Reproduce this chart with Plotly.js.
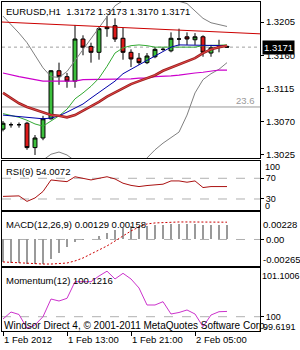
<!DOCTYPE html>
<html><head><meta charset="utf-8">
<script src="https://cdn.plot.ly/plotly-3.0.1.min.js"></script>
<style>html,body{margin:0;padding:0;background:#fff}#chart{width:300px;height:350px}</style>
</head><body><div id="chart"></div><script>
const times = ['2012-02-01 05:00','2012-02-01 06:00','2012-02-01 07:00','2012-02-01 08:00','2012-02-01 09:00','2012-02-01 10:00','2012-02-01 11:00','2012-02-01 12:00','2012-02-01 13:00','2012-02-01 14:00','2012-02-01 15:00','2012-02-01 16:00','2012-02-01 17:00','2012-02-01 18:00','2012-02-01 19:00','2012-02-01 20:00','2012-02-01 21:00','2012-02-01 22:00','2012-02-01 23:00','2012-02-02 00:00','2012-02-02 01:00','2012-02-02 02:00','2012-02-02 03:00','2012-02-02 04:00','2012-02-02 05:00','2012-02-02 06:00','2012-02-02 07:00','2012-02-02 08:00','2012-02-02 09:00'];
const open  = [1.3060,1.3066,1.3066,1.3068,1.3035,1.3048,1.3074,1.3139,1.3131,1.3125,1.3182,1.3172,1.3164,1.3196,1.3200,1.3183,1.3164,1.3156,1.3150,1.3158,1.3168,1.3166,1.3182,1.3185,1.3181,1.3185,1.3163,1.3171,1.3172];
const high  = [1.3071,1.3069,1.3069,1.3070,1.3052,1.3078,1.3140,1.3150,1.3136,1.3201,1.3187,1.3177,1.3199,1.3213,1.3210,1.3197,1.3168,1.3163,1.3163,1.3171,1.3171,1.3191,1.3196,1.3191,1.3190,1.3187,1.3174,1.3181,1.3173];
const low   = [1.3057,1.3062,1.3062,1.3032,1.3025,1.3045,1.3073,1.3120,1.3116,1.3116,1.3160,1.3150,1.3154,1.3185,1.3178,1.3154,1.3144,1.3147,1.3148,1.3156,1.3166,1.3164,1.3173,1.3174,1.3174,1.3158,1.3158,1.3164,1.3170];
const close = [1.3068,1.3066,1.3066,1.3035,1.3048,1.3074,1.3139,1.3131,1.3125,1.3182,1.3171,1.3164,1.3196,1.3198,1.3182,1.3164,1.3155,1.3150,1.3159,1.3168,1.3168,1.3183,1.3182,1.3182,1.3185,1.3164,1.3170,1.3171,1.3171];
const maRed     = [1.3109,1.3102,1.3095,1.3090,1.3086,1.3082,1.3079,1.3078,1.3076,1.3079,1.3085,1.3090,1.3097,1.3104,1.3110,1.3116,1.3121,1.3125,1.3129,1.3133,1.3139,1.3143,1.3147,1.3151,1.3156,1.3163,1.3168,1.3171,1.3173];
const maBlue    = [1.3079,1.3078,1.3076,1.3075,1.3074,1.3074,1.3075,1.3078,1.3083,1.3089,1.3094,1.3102,1.3110,1.3118,1.3125,1.3135,1.3141,1.3148,1.3154,1.3160,1.3166,1.3171,1.3174,1.3174,1.3174,1.3174,1.3173,1.3173,1.3173];
const maGreen   = [1.3081,1.3079,1.3076,1.3072,1.3067,1.3064,1.3071,1.3078,1.3087,1.3101,1.3109,1.3118,1.3129,1.3145,1.3163,1.3170,1.3173,1.3174,1.3173,1.3171,1.3171,1.3171,1.3171,1.3171,1.3171,1.3173,1.3173,1.3174,1.3174];
const maMagenta = [1.3136,1.3133,1.3131,1.3129,1.3127,1.3125,1.3125,1.3125,1.3125,1.3125,1.3127,1.3127,1.3127,1.3127,1.3127,1.3127,1.3128,1.3129,1.3129,1.3131,1.3131,1.3132,1.3133,1.3135,1.3136,1.3137,1.3139,1.3140,1.3140];
const bandUpper = [1.3213,1.3202,1.3190,1.3177,1.3160,1.3143,1.3131,1.3130,1.3138,1.3153,1.3168,1.3182,1.3197,1.3212,1.3227,1.3234,1.3239,1.3242,1.3243,1.3242,1.3239,1.3236,1.3233,1.3230,1.3220,1.3210,1.3204,1.3202,1.3199];
const bandLower = [1.2990,1.2995,1.3000,1.3005,1.3010,1.3018,1.3026,1.3029,1.3025,1.3017,1.3005,1.2995,1.2988,1.2985,1.2985,1.2990,1.2998,1.3008,1.3021,1.3032,1.3041,1.3049,1.3056,1.3079,1.3109,1.3127,1.3135,1.3141,1.3150];
const trendRed = [1.3205, 1.3189];
const fibLevel = 1.3090;
const fibLabel = '23.6';
const rsi = [35,35,36,25.4,32,44.5,66.8,65,63.5,73,70,66.8,70,73,68.7,60.5,56.3,54,56,57.2,58.6,64.9,64.9,62.4,64.9,52.1,54,54,54.0072];
const rsiLevels = [70, 30];
const macdMain = [-0.00205,-0.00215,-0.00215,-0.00224,-0.00228,-0.00224,-0.00178,-0.00123,-0.00068,-0.00023,-0.00005,0.00005,0.00032,0.00059,0.00087,0.00105,0.00119,0.00123,0.00123,0.00128,0.00132,0.00137,0.00142,0.00142,0.00142,0.00132,0.00128,0.00128,0.00129];
const macdSignal = [-0.00205,-0.0021,-0.00215,-0.00219,-0.00224,-0.00224,-0.00224,-0.00219,-0.00215,-0.00196,-0.00169,-0.00132,-0.00096,-0.00059,-0.00014,0.00032,0.00078,0.00114,0.00142,0.00151,0.00155,0.0016,0.0016,0.0016,0.0016,0.0016,0.0016,0.00159,0.00158];
const momentum = [99.947,100.108,100.051,99.732,99.809,100.0,100.408,100.362,100.424,100.807,100.807,100.807,100.939,101.05,100.870,101.001,100.870,100.662,100.270,100.270,100.346,100.062,100.097,100.155,100.062,99.769,100.039,100.115,100.1216];
const priceTicks = [1.3025,1.3070,1.3115,1.3160,1.3205];
const timeTicks = ['2012-02-01 05:00','2012-02-01 13:00','2012-02-01 21:00','2012-02-02 05:00'];
const timeTickText = ['1 Feb 2012','1 Feb 13:00','1 Feb 21:00','2 Feb 05:00'];
const headerText = 'EURUSD,H1\u00a0\u00a01.3172 1.3173 1.3170 1.3171';
const rsiTitle = 'RSI(9) 54.0072';
const macdTitle = 'MACD(12,26,9) 0.00129 0.00158';
const momTitle = 'Momentum(12) 100.1216';
const rsiEdge = ['100','0'];
const macdEdge = ['0.00228','-0.00265'];
const momEdge = ['101.1006','99.6191'];
const watermark = 'Windsor Direct 4, \u00a9 2001-2011 MetaQuotes Software Corp.';

const FONT = 'Liberation Sans, Arial, sans-serif';
const xRange = ['2012-02-01 04:52:30','2012-02-02 13:07:30'];
const last = close[close.length-1];

const traces = [
  {type:'candlestick', x:times, open:open, high:high, low:low, close:close, xaxis:'x', yaxis:'y',
   increasing:{line:{color:'#000',width:1}, fillcolor:'#3cbf3c'},
   decreasing:{line:{color:'#000',width:1}, fillcolor:'#dd1a1a'}, hoverinfo:'skip'},
  {type:'scatter', mode:'lines', x:times, y:bandUpper, line:{color:'#808080',width:1}, xaxis:'x', yaxis:'y'},
  {type:'scatter', mode:'lines', x:times, y:bandLower, line:{color:'#808080',width:1}, xaxis:'x', yaxis:'y'},
  {type:'scatter', mode:'lines', x:times, y:maMagenta, line:{color:'#cc00cc',width:1.2}, xaxis:'x', yaxis:'y'},
  {type:'scatter', mode:'lines', x:times, y:maGreen, line:{color:'#33aa33',width:1}, xaxis:'x', yaxis:'y'},
  {type:'scatter', mode:'lines', x:times, y:maBlue, line:{color:'#0000aa',width:1}, xaxis:'x', yaxis:'y'},
  {type:'scatter', mode:'lines', x:times, y:maRed, line:{color:'#9a2020',width:2.6}, xaxis:'x', yaxis:'y'},
  {type:'scatter', mode:'lines', x:times, y:maRed, line:{color:'#e84848',width:0.9}, xaxis:'x', yaxis:'y'},
  {type:'scatter', mode:'lines', x:times, y:rsi, line:{color:'#aa1111',width:1}, xaxis:'x2', yaxis:'y2'},
  {type:'bar', x:times, y:macdMain, width:500000, marker:{color:'#9a9a9a', line:{width:0}}, xaxis:'x3', yaxis:'y3'},
  {type:'scatter', mode:'lines', x:times, y:macdSignal, line:{color:'#cc0000',width:1,dash:'2px,2px'}, xaxis:'x3', yaxis:'y3'},
  {type:'scatter', mode:'lines', x:times, y:momentum, line:{color:'#cc33cc',width:1}, xaxis:'x4', yaxis:'y4'}
];

const xBase = {type:'date', range:xRange, showline:true, mirror:true, linecolor:'#000', linewidth:1,
  showgrid:false, zeroline:false, showticklabels:false, ticks:'', fixedrange:true};
const yBase = {side:'right', showline:true, mirror:true, linecolor:'#000', linewidth:1, showgrid:false,
  zeroline:false, ticks:'outside', ticklen:3, tickcolor:'#000', tickfont:{size:9.5,color:'#000'}, fixedrange:true};

const hline = (yref, y, color, dash) => ({type:'line', xref:'paper', x0:0, x1:1, yref:yref, y0:y, y1:y,
  line:{color:color, width:1, dash:dash}, layer:'below'});

const shapes = [
  hline('y', fibLevel, '#9a9a9a', 'solid'),
  hline('y', last, '#a0a0a0', 'dot'),
  {type:'line', xref:'paper', x0:0, x1:1, yref:'y', y0:trendRed[0], y1:trendRed[1], line:{color:'#cc0000',width:1}},
  hline('y2', rsiLevels[0], '#b0b0b0', 'dash'),
  hline('y2', rsiLevels[1], '#b0b0b0', 'dash'),
  hline('y3', 0, '#b0b0b0', 'dash'),
  hline('y4', 100, '#b0b0b0', 'dash')
];

const ann = (text, x, y, extra) => Object.assign({text:text, showarrow:false, xref:'paper', yref:'paper',
  x:x, y:y, xanchor:'left', yanchor:'middle', font:{family:FONT, size:9.5, color:'#000'}, borderpad:0}, extra||{});

const annotations = [
  ann(headerText, 0.012, 0.9726),
  ann(rsiTitle, 0.012, 0.4863),
  ann(macdTitle, 0.012, 0.3252),
  ann(momTitle, 0.012, 0.155),
  ann(watermark, 0.004, 0.018, {font:{family:FONT, size:10, color:'#000'}}),
  ann(fibLabel, 0.985, fibLevel, {yref:'y', xanchor:'right', yanchor:'bottom', font:{family:FONT,size:9.5,color:'#9a9a9a'}}),
  ann(last.toFixed(4), 1, last, {yref:'y', xshift:2, bgcolor:'#000', font:{family:FONT,size:9.5,color:'#fff'}, borderpad:1}),
  ann(rsiEdge[0], 1, 1, {yref:'y2 domain', xshift:4, yanchor:'top', yshift:0, font:{family:FONT,size:9,color:'#000'}}),
  ann(rsiEdge[1], 1, 0, {yref:'y2 domain', xshift:4, yanchor:'bottom', yshift:-2, font:{family:FONT,size:9,color:'#000'}}),
  ann(macdEdge[0], 1, 1, {yref:'y3 domain', xshift:2, yanchor:'top', yshift:-6}),
  ann(macdEdge[1], 1, 0, {yref:'y3 domain', xshift:2, yanchor:'bottom', yshift:0}),
  ann(momEdge[0], 1, 1, {yref:'y4 domain', xshift:1, yanchor:'top', yshift:-2, font:{family:FONT,size:9,color:'#000'}}),
  ann(momEdge[1], 1, 0, {yref:'y4 domain', xshift:2, yanchor:'bottom', yshift:-2, font:{family:FONT,size:9,color:'#000'}})
];

const layout = {
  width:300, height:350, margin:{l:2, r:40, t:2, b:19}, paper_bgcolor:'#fff', plot_bgcolor:'#fff',
  showlegend:false, font:{family:FONT, size:9.5, color:'#000'}, bargap:0,
  xaxis: Object.assign({}, xBase, {anchor:'y', rangeslider:{visible:false}}),
  xaxis2: Object.assign({}, xBase, {anchor:'y2', matches:'x'}),
  xaxis3: Object.assign({}, xBase, {anchor:'y3', matches:'x'}),
  xaxis4: Object.assign({}, xBase, {anchor:'y4', matches:'x', ticks:'outside', ticklen:4, tickcolor:'#000',
    tickvals:timeTicks, ticktext:timeTickText, showticklabels:true, ticklabelposition:'outside right',
    tickfont:{size:9.5,color:'#000'}}),
  yaxis: Object.assign({}, yBase, {anchor:'x', domain:[0.5258,1], range:[1.30209,1.32321], tickvals:priceTicks, tickformat:'.4f'}),
  yaxis2: Object.assign({}, yBase, {anchor:'x2', domain:[0.3678,0.5167], range:[8.75,103.4], tickvals:rsiLevels, ticktext:rsiLevels.map(String), tickfont:{size:9,color:'#000'}}),
  yaxis3: Object.assign({}, yBase, {anchor:'x3', domain:[0.1976,0.3617], range:[-0.00242,0.00251], tickvals:[0], ticktext:['0.00']}),
  yaxis4: Object.assign({}, yBase, {anchor:'x4', domain:[0,0.1915], range:[99.670,101.1235], tickvals:[100], ticktext:['100'], tickfont:{size:9,color:'#000'}}),
  shapes:shapes, annotations:annotations
};

Plotly.newPlot('chart', traces, layout, {staticPlot:true, displayModeBar:false});
</script></body></html>
